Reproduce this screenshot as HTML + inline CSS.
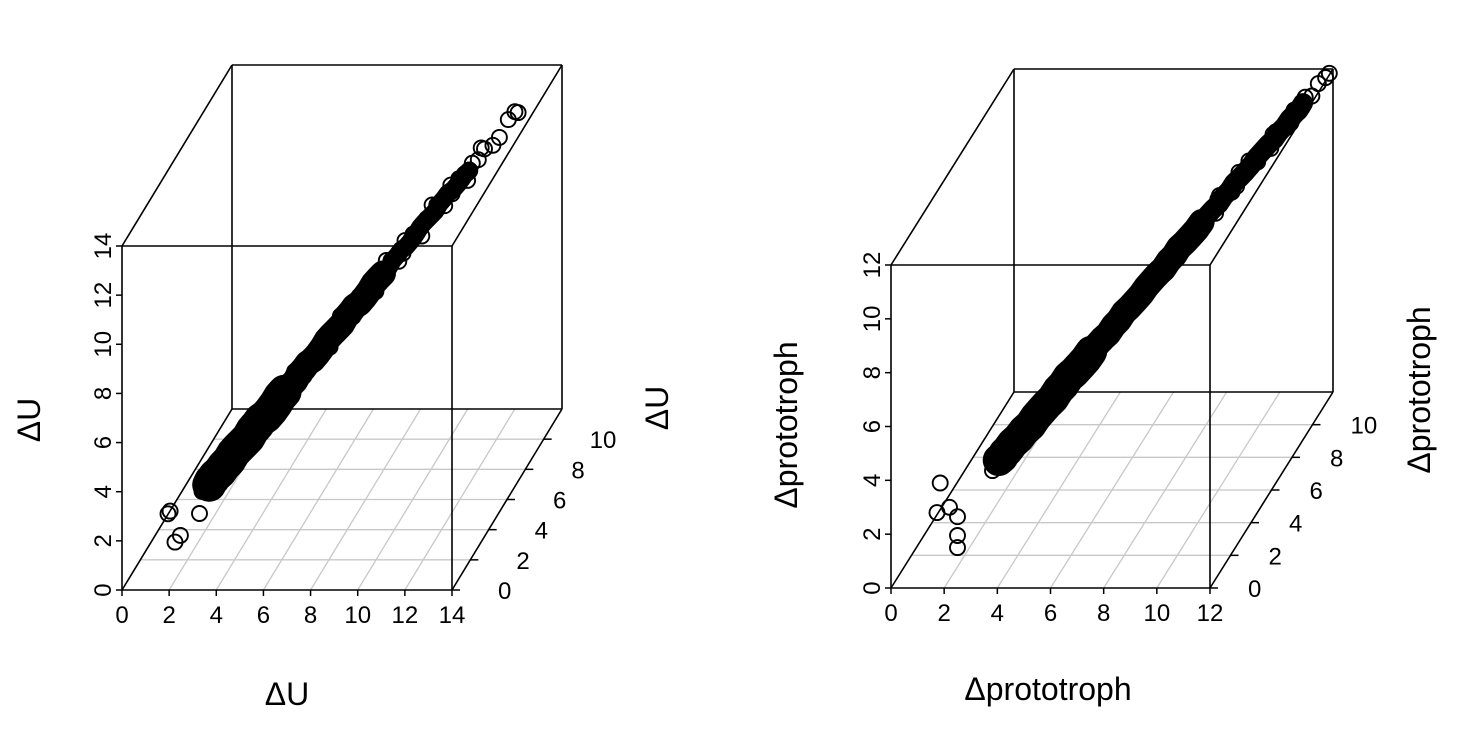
<!DOCTYPE html>
<html><head><meta charset="utf-8"><style>
html,body{margin:0;padding:0;background:#fff;}
svg{display:block;font-family:"Liberation Sans",Arial,sans-serif;}
</style></head><body>
<svg id="chart" width="1462" height="740" viewBox="0 0 1462 740" xmlns="http://www.w3.org/2000/svg"></svg>
<script>
// Left panel data (ΔU)
const leftX = [2.5,2.6,2.7,2.8,3.0,3.1,3.3,3.4,3.5,3.7,3.8,4.0,4.1,4.3,4.4,4.5,4.7,4.8,5.0,5.1,5.3,5.4,5.5,5.7,5.8,6.0,6.1,6.3,6.4,6.5,6.7,6.8,7.0,7.1,7.3,7.4,7.5,7.7,7.8,8.0,8.1,8.3,8.4,8.5,8.7,8.8,9.0,9.1,9.3,9.4,9.5,9.7,9.8,10.0,10.1,10.3,10.4,10.5,10.7,10.8,11.0,11.1,11.3,11.5,11.8,12.0,12.1,1.95,2.0,2.25,2.4,2.9];
const leftY = [2.3,2.9,2.5,3.1,2.8,3.2,2.9,3.6,3.5,4.1,3.7,3.7,4.3,4.6,4.2,4.6,4.3,5.0,5.0,5.5,5.2,5.1,5.7,6.0,5.6,6.1,5.7,6.5,6.4,6.9,6.6,6.5,7.2,7.4,7.1,7.5,7.1,7.9,7.8,8.4,8.0,8.0,8.6,8.8,8.5,8.9,8.6,9.3,9.3,9.8,9.4,9.4,10.0,10.3,9.9,10.4,10.0,10.7,10.7,11.1,10.9,11.0,11.4,11.6,11.8,12.0,12.1,0.0,0.1,0.0,0.2,1.0];
const leftZ = [2.6,2.4,2.9,2.6,3.3,3.1,3.5,3.0,3.6,3.6,4.2,4.2,3.8,4.1,4.7,4.5,4.9,4.4,5.1,5.0,5.7,5.6,5.2,5.5,6.1,6.0,6.3,5.9,6.5,6.4,7.1,7.0,6.7,6.9,7.6,7.4,7.7,7.3,7.9,7.9,8.5,8.5,8.1,8.3,9.0,8.8,9.2,8.7,9.4,9.3,9.9,9.9,9.5,9.8,10.4,10.3,10.6,10.1,10.8,10.7,11.3,11.2,11.1,11.3,11.9,12.1,12.0,3.1,3.15,1.95,2.1,2.5];
// Right panel data (Δprototroph)
const rightX = [2.7,2.9,3.0,3.1,3.3,3.5,3.6,3.8,3.9,4.1,4.2,4.4,4.5,4.7,4.8,5.0,5.1,5.3,5.4,5.6,5.7,5.9,6.0,6.2,6.3,6.5,6.6,6.8,6.9,7.1,7.2,7.4,7.5,7.7,7.8,8.0,8.1,8.3,8.4,8.6,8.7,8.9,9.0,9.2,9.3,9.5,9.6,9.8,9.9,10.1,10.2,10.4,10.5,10.7,10.8,11.0,11.1,11.3,11.4,11.6,11.8,11.9,1.73,1.85,2.2,2.5,2.5,2.5];
const rightY = [2.9,2.6,3.3,2.9,3.6,3.3,3.7,3.5,4.1,4.1,4.6,4.3,4.2,4.9,5.1,4.8,5.2,5.0,5.6,5.6,6.1,5.8,5.7,6.4,6.6,6.3,6.7,6.5,7.1,7.1,7.6,7.3,7.2,7.9,8.1,7.8,8.2,8.0,8.6,8.6,9.1,8.8,8.7,9.4,9.6,9.3,9.7,9.5,10.1,10.1,10.6,10.3,10.3,10.9,11.0,10.8,11.2,11.1,11.5,11.6,11.8,11.9,0.0,0.0,0.0,0.0,0.0,0.0];
const rightZ = [2.6,3.1,2.8,3.4,3.1,3.8,3.5,4.0,3.6,4.2,3.9,4.7,4.8,4.5,4.6,5.3,5.0,5.6,5.2,5.7,5.4,6.1,6.3,6.0,6.1,6.8,6.5,7.1,6.7,7.2,6.9,7.6,7.8,7.5,7.6,8.3,8.0,8.6,8.2,8.7,8.4,9.1,9.3,9.0,9.1,9.8,9.5,10.1,9.7,10.2,9.9,10.6,10.7,10.5,10.6,11.2,11.0,11.5,11.3,11.7,11.8,11.9,2.8,3.9,3.0,2.65,1.95,1.5];

const svg = document.getElementById('chart');
const NS = 'http://www.w3.org/2000/svg';
function mk(tag, attrs, parent){const e=document.createElementNS(NS,tag);for(const k in attrs)e.setAttribute(k,attrs[k]);(parent||svg).appendChild(e);return e;}

function panel(cfg, xs, ys, zs){
  const g = mk('g',{});
  
  
  const X0=cfg.x0, X1=cfg.x1, Y0=cfg.y0, Ytop=cfg.ytop, dx=cfg.dx, dy=cfg.dy;
  const sx = x => (X1-X0)*x/cfg.xmax;
  const sz = z => (Y0-Ytop)*z/cfg.zmax;
  const P = (x,y,z) => [X0 + sx(x) + dx*y/cfg.ymax, Y0 - sz(z) - dy*y/cfg.ymax];
  // floor grid
  const grid = mk('g',{stroke:'#c8c8c8','stroke-width':1.3},g);
  
  
  for(let i=2;i<cfg.xmax;i+=2){const a=P(i,0,0),b=P(i,cfg.ymax,0);mk('line',{x1:a[0],y1:a[1],x2:b[0],y2:b[1]},grid);}
  for(let j=2;j<cfg.ymax;j+=2){const a=P(0,j,0),b=P(cfg.xmax,j,0);mk('line',{x1:a[0],y1:a[1],x2:b[0],y2:b[1]},grid);}
  // box
  const box = mk('g',{stroke:'#000','stroke-width':1.6,fill:'none'},g);
  
  
  const c=[];for(const x of [0,cfg.xmax])for(const y of [0,cfg.ymax])for(const z of [0,cfg.zmax])c.push({x,y,z,p:P(x,y,z)});
  for(let a=0;a<8;a++)for(let b=a+1;b<8;b++){const d=(c[a].x!==c[b].x)+(c[a].y!==c[b].y)+(c[a].z!==c[b].z);if(d===1)mk('line',{x1:c[a].p[0],y1:c[a].p[1],x2:c[b].p[0],y2:c[b].p[1]},box);}
  // dense overlap band (many overlapping circles), smoothed from the data points
  const raw=[];
  for(let i=0;i<xs.length;i++){ if(xs[i]>=cfg.bandMin && xs[i]<=cfg.bandMax && Math.abs(ys[i]-xs[i])<1.5){raw.push([xs[i],P(xs[i],ys[i],zs[i])]);} }
  raw.sort((a,b)=>a[0]-b[0]);
  const sm=raw.map((q,i)=>{let sx0=0,sy0=0,n=0;for(let k=Math.max(0,i-3);k<=Math.min(raw.length-1,i+3);k++){sx0+=raw[k][1][0];sy0+=raw[k][1][1];n++;}return [sx0/n,sy0/n];});
  const seg=[[0,0.3,cfg.w[0]],[0.25,0.65,cfg.w[1]],[0.6,1.0,cfg.w[2]]];
  for(const [f0,f1,w] of seg){
    const n=sm.length, s=Math.floor(f0*(n-1)), e=Math.ceil(f1*(n-1));
    const pl=mk('polyline',{points:sm.slice(s,e+1).map(q=>q[0].toFixed(1)+','+q[1].toFixed(1)).join(' '),fill:'none',stroke:'#000','stroke-width':w,'stroke-linejoin':'round','stroke-linecap':'round'},g);
    
    
  }
  // points
  const pts = mk('g',{stroke:'#000','stroke-width':1.9,fill:'none'},g);
  
  
  for(let i=0;i<xs.length;i++){const p=P(xs[i],ys[i],zs[i]);const ci=mk('circle',{cx:p[0].toFixed(1),cy:p[1].toFixed(1),r:7.5},pts);
    
    }
  // x axis
  const xa = mk('g',{'font-size':24,'text-anchor':'middle'},g);
  
  
  for(let i=0;i<=cfg.xmax;i+=2){const p=P(i,0,0);mk('line',{x1:p[0],y1:p[1],x2:p[0],y2:p[1]+6,stroke:'#000','stroke-width':1.5},xa);const t=mk('text',{x:p[0],y:p[1]+33},xa);t.textContent=i;}
  // z axis
  const za = mk('g',{'font-size':24,'text-anchor':'middle'},g);
  
  
  for(let i=0;i<=cfg.zmax;i+=2){const p=P(0,0,i);mk('line',{x1:p[0]-6,y1:p[1],x2:p[0],y2:p[1],stroke:'#000','stroke-width':1.5},za);const t=mk('text',{x:p[0]-11,y:p[1],transform:`rotate(-90 ${p[0]-11} ${p[1]})`},za);t.textContent=i;}
  // y (depth) axis
  const ya = mk('g',{'font-size':24,'text-anchor':'start'},g);
  
  
  for(let j=0;j<cfg.ymax;j+=2){const p=P(cfg.xmax,j,0);mk('line',{x1:p[0],y1:p[1],x2:p[0]+8,y2:p[1],stroke:'#000','stroke-width':1.5},ya);const t=mk('text',{x:p[0]+cfg.ylabOff,y:p[1]+9},ya);t.textContent=j;}
  // titles
  const tx=mk('text',{x:cfg.xt[0],y:cfg.xt[1],'font-size':32,'text-anchor':'middle'},g);tx.textContent=cfg.title;
  
  
  const tz=mk('text',{x:cfg.zt[0],y:cfg.zt[1],'font-size':32,'text-anchor':'middle',transform:`rotate(-90 ${cfg.zt[0]} ${cfg.zt[1]})`},g);tz.textContent=cfg.title;
  
  
  const ty=mk('text',{x:cfg.yt[0],y:cfg.yt[1],'font-size':32,'text-anchor':'middle',transform:`rotate(-90 ${cfg.yt[0]} ${cfg.yt[1]})`},g);ty.textContent=cfg.title;
  
  
}
panel({name:'left-panel',x0:122,x1:452,y0:590,ytop:246,dx:110,dy:181,xmax:14,zmax:14,ymax:12,ylabOff:46,bandMin:2.5,bandMax:10.9,w:[34,26,18],title:'\u0394U',xt:[287,705],zt:[40,420],yt:[668,408]}, leftX,leftY,leftZ);
panel({name:'right-panel',x0:891,x1:1210,y0:588,ytop:265,dx:123,dy:196,xmax:12,zmax:12,ymax:12,ylabOff:38,bandMin:2.7,bandMax:11.5,w:[32,26,20],title:'\u0394prototroph',xt:[1048,700],zt:[797,425],yt:[1430,390]}, rightX,rightY,rightZ);
</script>
</body></html>
